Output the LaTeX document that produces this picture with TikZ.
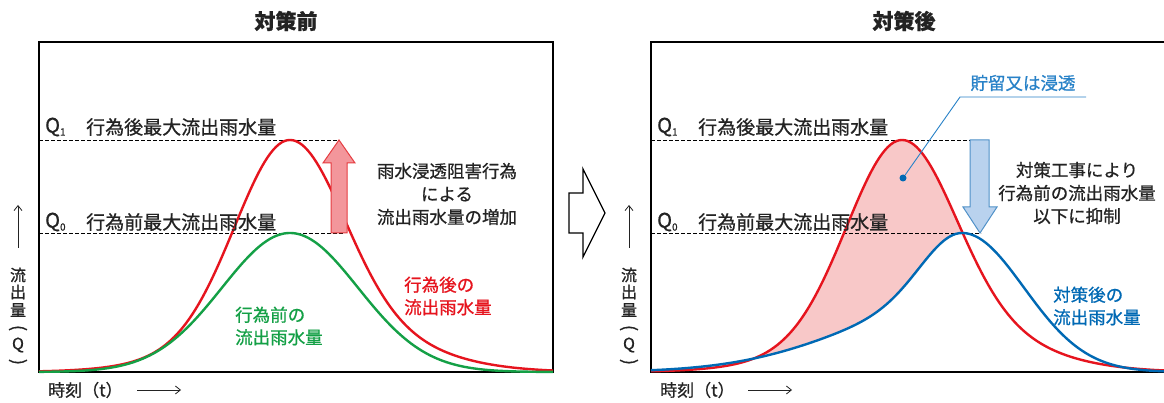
\documentclass[tikz,border=0pt]{standalone}
\usepackage{fontspec}
\setmainfont{Noto Sans CJK JP}[FakeBold=0.8]
\usetikzlibrary{arrows.meta}
\definecolor{cred}{RGB}{230,20,30}
\definecolor{cgreen}{RGB}{20,160,70}
\definecolor{cblue}{RGB}{0,105,180}
\definecolor{clblue}{RGB}{40,130,200}
\definecolor{cpink}{RGB}{248,200,200}
\definecolor{arrred}{RGB}{243,150,155}
\definecolor{arrredline}{RGB}{230,60,65}
\definecolor{arrblue}{RGB}{185,210,238}
\definecolor{arrblueline}{RGB}{80,145,200}
\definecolor{txt}{RGB}{35,35,35}
\begin{document}
\begin{tikzpicture}[x=1pt,y=-1pt,
  declare function={
    g(\t,\s)=exp(-0.5*(\t/\s)*(\t/\s));
    redL(\t)=232*(0.85*g(\t,54)+0.15*g(\t,90));
    redR(\t)=232*(0.7*g(\t,52)+0.3*g(\t,95));
    grn(\t)=139*g(\t,68);
    bluL(\t)=139*(0.5*g(\t,40)+0.5*g(\t,115));
    bluR(\t)=139*g(\t,62);
  },
  frame/.style={line width=2.4pt, black},
  curve/.style={line width=2.4pt, line join=round},
  qline/.style={dash pattern=on 3.5pt off 2.5pt, line width=0.9pt, black},
  title/.style={font=\fontsize{21}{21}\selectfont\bfseries, inner sep=0pt, text=txt},
  qsym/.style={font=\fontsize{20}{20}\selectfont, anchor=west, inner sep=0pt, text=txt},
  lbl/.style={font=\fontsize{19}{19}\selectfont, anchor=west, inner sep=0pt, text=txt},
  ann/.style={font=\fontsize{17.5}{23}\selectfont, align=center, inner sep=0pt, text=txt},
  clbl/.style={font=\fontsize{17.5}{22.5}\selectfont, align=left, anchor=west, inner sep=0pt},
  ytxt/.style={font=\fontsize{16}{16}\selectfont, inner sep=0pt, text=txt},
  ypar/.style={font=\fontsize{18}{18}\selectfont, inner sep=0pt, text=txt, rotate=-90},
  xtxt/.style={font=\fontsize{17}{17}\selectfont, anchor=west, inner sep=0pt, text=txt},
  axarr/.style={line width=0.8pt, txt, -{Straight Barb[length=5pt,width=8pt]}},
]
\useasboundingbox (0,0) rectangle (1164,403);
\fill[white] (0,0) rectangle (1164,403);

% ---------- pink fill (right panel) ----------
\begin{scope}
  \clip plot[domain=651:962,samples=90] (\x,{372-bluL(\x-962)})
     -- plot[domain=962:1164,samples=60] (\x,{372-bluR(\x-962)})
     -- (1164,30) -- (651,30) -- cycle;
  \fill[cpink] plot[domain=651:902,samples=90] (\x,{372-redL(\x-902)})
     -- plot[domain=902:1164,samples=90] (\x,{372-redR(\x-902)})
     -- (1164,372) -- (651,372) -- cycle;
\end{scope}

% ---------- dashed level lines ----------
\coordinate (L1a) at (39,140);  \coordinate (L1b) at (340,140);
\coordinate (L0a) at (39,233);  \coordinate (L0b) at (343,233);
\coordinate (R1a) at (651,140); \coordinate (R1b) at (982,140);
\coordinate (R0a) at (651,233); \coordinate (R0b) at (981,233);
\draw[qline] (L1a) -- (L1b);
\draw[qline] (L0a) -- (L0b);
\draw[qline] (R1a) -- (R1b);
\draw[qline] (R0a) -- (R0b);

% ---------- frames ----------
\draw[frame] (39,42) rectangle (553,372);
\draw[frame] (1170,42) -- (651,42) -- (651,372) -- (1170,372);

% ---------- left panel curves ----------
\draw[curve, cred] plot[domain=39:290,samples=90] (\x,{372-redL(\x-290)})
   -- plot[domain=290:553,samples=90] (\x,{372-redR(\x-290)});
\draw[curve, cgreen] plot[domain=39:553,samples=150] (\x,{372-grn(\x-290)});

% ---------- right panel curves ----------
\draw[curve, cred] plot[domain=651:902,samples=90] (\x,{372-redL(\x-902)})
   -- plot[domain=902:1164,samples=90] (\x,{372-redR(\x-902)});
\draw[curve, cblue] plot[domain=651:962,samples=100] (\x,{372-bluL(\x-962)})
   -- plot[domain=962:1164,samples=80] (\x,{372-bluR(\x-962)});

% ---------- block arrows ----------
\draw[fill=arrred, draw=arrredline, line width=1pt, line join=miter]
  (331,233) -- (347,233) -- (347,163) -- (355,163) -- (339,140) -- (323,163) -- (331,163) -- cycle;
\draw[fill=arrblue, draw=arrblueline, line width=1pt, line join=miter]
  (970,140) -- (989,140) -- (989,207) -- (997,207) -- (980,233) -- (963,207) -- (970,207) -- cycle;
\draw[fill=white, draw=black, line width=1.3pt, line join=miter]
  (569,193) -- (583,193) -- (583,169) -- (605,213) -- (583,257) -- (583,233) -- (569,233) -- cycle;

% ---------- titles ----------
\node[title] (t1) at (286,21) {対策前};
\node[title] (t2) at (904,21) {対策後};

% ---------- Q labels ----------
\node[qsym] (q1l) at (45,127) {Q\raisebox{-3pt}{\fontsize{10}{10}\selectfont 1}};
\node[lbl] (q1lt) at (86,127) {行為後最大流出雨水量};
\node[qsym] (q0l) at (45,222) {Q\raisebox{-3pt}{\fontsize{10}{10}\selectfont 0}};
\node[lbl] (q0lt) at (86,222) {行為前最大流出雨水量};
\node[qsym] (q1r) at (657,127) {Q\raisebox{-3pt}{\fontsize{10}{10}\selectfont 1}};
\node[lbl] (q1rt) at (698,127) {行為後最大流出雨水量};
\node[qsym] (q0r) at (657,222) {Q\raisebox{-3pt}{\fontsize{10}{10}\selectfont 0}};
\node[lbl] (q0rt) at (698,222) {行為前最大流出雨水量};

% ---------- annotations ----------
\node[ann] (annL) at (447,194) {雨水浸透阻害行為\\による\\流出雨水量の増加};
\node[ann] (annR) at (1077,193) {対策工事により\\行為前の流出雨水量\\以下に抑制};
\node[clbl, text=cred] (redlbl) at (404,296) {行為後の\\流出雨水量};
\node[clbl, text=cgreen] (grnlbl) at (235,326) {行為前の\\流出雨水量};
\node[clbl, text=cblue] (blulbl) at (1053,306) {対策後の\\流出雨水量};

% ---------- callout ----------
\node[font=\fontsize{17.5}{17.5}\selectfont, text=clblue, inner sep=0pt] (callt) at (1023,83) {貯留又は浸透};
\node[circle, fill=cblue, inner sep=0pt, minimum size=7pt] (dot) at (903,178) {};
\coordinate (ul) at (960,97);
\coordinate (ur) at (1086,97);
\draw[clblue, line width=0.9pt] (dot) -- (ul) -- (ur);

% ---------- y axis labels ----------
\foreach \xx/\nm in {18/l, 629/r}{
  \coordinate (ya\nm) at (\xx,248);
  \coordinate (yb\nm) at (\xx,205);
  \draw[axarr] (ya\nm) -- (yb\nm);
  \node[ytxt] (y1\nm) at (\xx,275) {流};
  \node[ytxt] (y2\nm) at (\xx,292) {出};
  \node[ytxt] (y3\nm) at (\xx,310) {量};
  \node[ypar] (y4\nm) at (\xx,328) {(};
  \node[ytxt] (y5\nm) at (\xx,345) {Q};
  \node[ypar] (y6\nm) at (\xx,362) {)};
}

% ---------- x axis labels ----------
\node[xtxt] (xl) at (48,390) {時刻（t）};
\coordinate (xla) at (137,390); \coordinate (xlb) at (181,390);
\draw[axarr] (xla) -- (xlb);
\node[xtxt] (xr) at (660,390) {時刻（t）};
\coordinate (xra) at (748,390); \coordinate (xrb) at (792,390);
\draw[axarr] (xra) -- (xrb);
\end{tikzpicture}
\end{document}
